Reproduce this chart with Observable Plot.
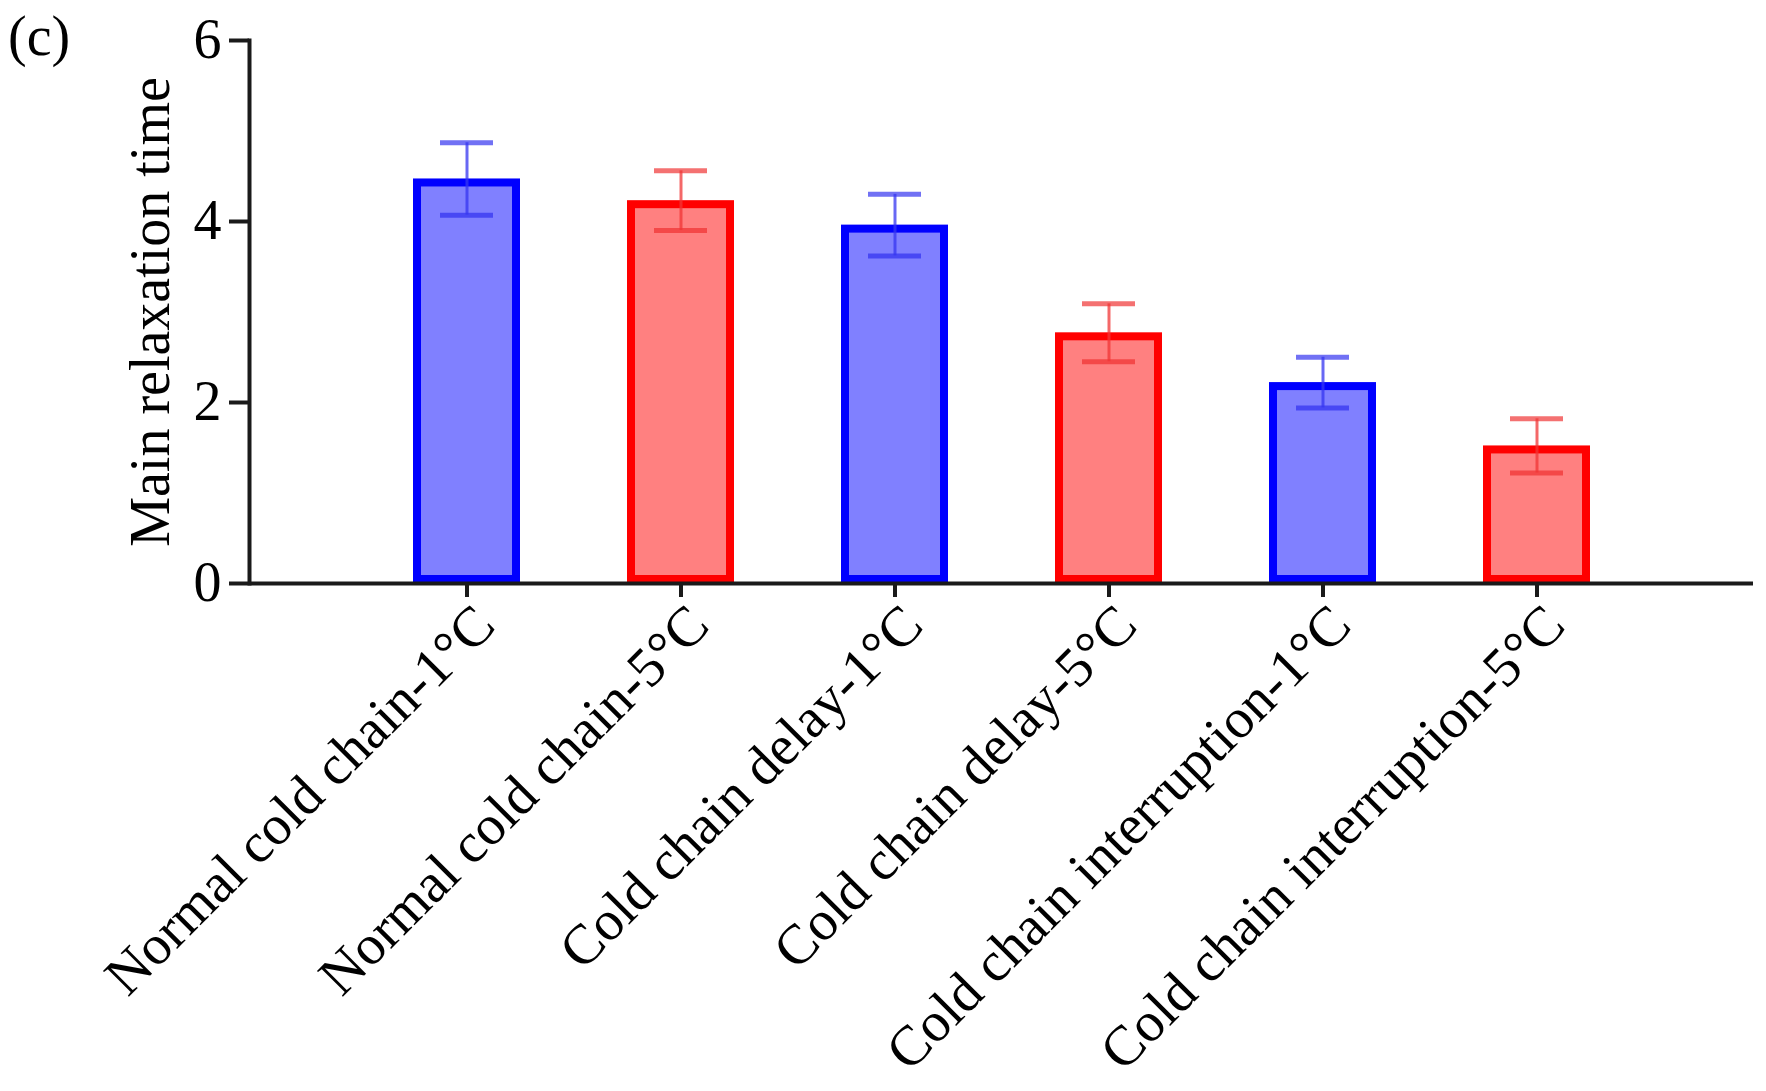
<!DOCTYPE html>
<html><head><meta charset="utf-8">
<script src="https://cdn.jsdelivr.net/npm/d3@7"></script>
<script src="https://cdn.jsdelivr.net/npm/@observablehq/plot@0.6"></script>
<style>
body{margin:0;background:#fff;}
#wrap{position:relative;width:1766px;height:1091px;}
#panel{position:absolute;left:8px;top:3px;font-family:"Liberation Serif","Times New Roman",serif;font-size:56px;color:#000;line-height:1.2;}
</style>
</head><body>
<div id="wrap"><div id="chart"></div><div id="panel">(c)</div></div>
<script>
const categories = [
  "Normal cold chain-1°C",
  "Normal cold chain-5°C",
  "Cold chain delay-1°C",
  "Cold chain delay-5°C",
  "Cold chain interruption-1°C",
  "Cold chain interruption-5°C"
];
const means = [4.47, 4.23, 3.96, 2.77, 2.22, 1.52];
const errors = [0.40, 0.33, 0.34, 0.32, 0.28, 0.30];
const temperatures = ["1°C", "5°C", "1°C", "5°C", "1°C", "5°C"];
const yTicks = [0, 2, 4, 6];
const strokeColors = {"1°C": "#0000ff", "5°C": "#ff0000"};
const fillColors = {"1°C": "#8080ff", "5°C": "#ff8080"};
const errColors = {"1°C": "#3535f0", "5°C": "#f03535"};

const data = categories.map((c, i) => ({category: c, mean: means[i], err: errors[i], temp: temperatures[i]}));

const axisColor = "#1a1a1a";
const plot = Plot.plot({
  width: 1766, height: 1091,
  marginLeft: 249, marginTop: 40, marginBottom: 508, marginRight: 13,
  style: {fontFamily: "'Liberation Serif', 'Times New Roman', serif", fontSize: "56px", color: "#000", background: "#fff"},
  x: {domain: categories, paddingInner: 0.5, paddingOuter: 0.75, label: null},
  y: {domain: [0, 6], label: null},
  marks: [
    Plot.barY(data, {x: "category", y: "mean", fill: d => fillColors[d.temp], stroke: d => strokeColors[d.temp], strokeWidth: 8, inset: 4}),
    Plot.ruleX(data, {x: "category", y1: d => d.mean - d.err, y2: d => d.mean + d.err, stroke: d => errColors[d.temp], strokeWidth: 3, strokeOpacity: 0.75}),
    Plot.tickY(data, {x: "category", y: d => d.mean + d.err, stroke: d => errColors[d.temp], strokeWidth: 5, strokeOpacity: 0.7, insetLeft: 27, insetRight: 27}),
    Plot.tickY(data, {x: "category", y: d => d.mean - d.err, stroke: d => errColors[d.temp], strokeWidth: 5, strokeOpacity: 0.75, insetLeft: 27, insetRight: 27}),
    Plot.axisY({ticks: yTicks, tickFormat: d3.format("d"), tickSize: 20, tickPadding: 8, strokeWidth: 4, stroke: axisColor, fontSize: 56, label: "Main relaxation time", labelAnchor: "center", labelArrow: "none", labelOffset: 120}),
    Plot.axisX({tickSize: 14, strokeWidth: 4, stroke: axisColor, fill: "none", label: null}),
    Plot.axisX({tickSize: 0, tickRotate: -45, tickPadding: 20, dx: 18, dy: 12, stroke: "none", fontSize: 56, label: null}),
    Plot.frame({anchor: "left", stroke: axisColor, strokeWidth: 4}),
    Plot.ruleY([0], {stroke: axisColor, strokeWidth: 4})
  ]
});
document.getElementById("chart").appendChild(plot);
</script>
</body></html>
